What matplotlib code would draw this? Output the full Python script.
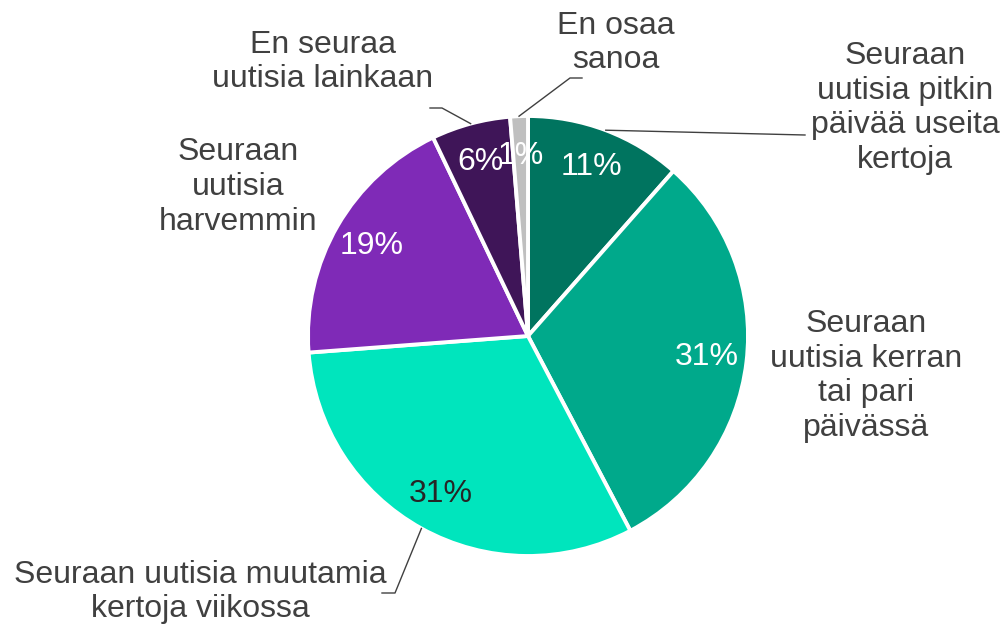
import numpy as np
import matplotlib.pyplot as plt

plt.rcParams['font.family'] = ['Liberation Sans', 'DejaVu Sans']

labels = ["Seuraan\nuutisia pitkin\npäivää useita\nkertoja",
          "Seuraan\nuutisia kerran\ntai pari\npäivässä",
          "Seuraan uutisia muutamia\nkertoja viikossa",
          "Seuraan\nuutisia\nharvemmin",
          "En seuraa\nuutisia lainkaan",
          "En osaa\nsanoa"]
values = [11.5, 30.8, 31.5, 19.1, 5.8, 1.3]
pct_text = ["11%", "31%", "31%", "19%", "6%", "1%"]
colors = ["#00745F", "#00A98B", "#00E5BD", "#7F2AB7", "#3F1558", "#BFBFBF"]
pct_colors = ["white", "white", "#262626", "white", "white", "white"]

# label placement (pixel coords, y from top), elbow points for leader lines
label_pos = [(905, 108), (866, 376), (200, 592), (238, 187), (323, 62), (616, 43)]
elbows = [[(805, 135)], None, [(395, 593), (382, 593)], None,
          [(442, 108), (430, 108)], [(570, 78), (582, 78)]]

W, H = 1002, 625
cx, cy, r = 528, 336, 220

fig = plt.figure(figsize=(W / 100, H / 100), dpi=100)
ax = fig.add_axes([0, 0, 1, 1])

wedges, _ = ax.pie(values, colors=colors, startangle=90, counterclock=False,
                   center=(cx, H - cy), radius=r,
                   wedgeprops=dict(edgecolor='white', linewidth=2.8))
ax.set_xlim(0, W)
ax.set_ylim(0, H)
ax.set_aspect('equal')
ax.axis('off')

total = sum(values)
cum = np.cumsum([0] + values)
for i, v in enumerate(values):
    mid = (cum[i] + v / 2) / total * 2 * np.pi
    dx, dy = np.sin(mid), np.cos(mid)
    ax.text(cx + 0.82 * r * dx, H - cy + 0.82 * r * dy, pct_text[i],
            ha='center', va='center', fontsize=23, color=pct_colors[i])
    lx, ly = label_pos[i]
    ax.text(lx, H - ly, labels[i], ha='center', va='center', fontsize=23,
            color='#404040', linespacing=1.2)
    if elbows[i]:
        pts = [(cx + r * dx, H - cy + r * dy)] + [(x, H - y) for x, y in elbows[i]]
        xs, ys = zip(*pts)
        ax.plot(xs, ys, color='#404040', linewidth=1.0)

fig.savefig("out.png", dpi=100)
